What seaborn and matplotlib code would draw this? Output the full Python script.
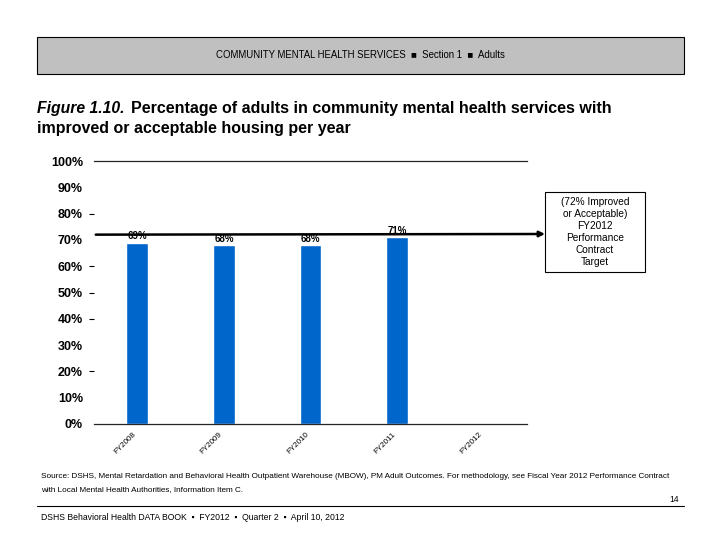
import numpy as np
import pandas as pd
import matplotlib
matplotlib.use("Agg")
import matplotlib.pyplot as plt
import matplotlib.transforms as mtransforms
from matplotlib.patches import Rectangle
import seaborn as sns

# ---------------- DATA ----------------
years = ["FY2008", "FY2009", "FY2010", "FY2011", "FY2012"]
pct_improved = [69, 68, 68, 71, np.nan]
target = 72
y_ticks = [0, 10, 20, 30, 40, 50, 60, 70, 80, 90, 100]
dash_ticks = [20, 40, 50, 60, 80]   # little marks left of the axis in the original

df = pd.DataFrame({"year": years, "pct": pct_improved})

# ---------------- STYLE ----------------
sns.set_style("white")
plt.rcParams['font.family'] = ['Liberation Sans', 'DejaVu Sans']
plt.rcParams['text.color'] = 'black'
plt.rcParams['xtick.color'] = 'black'
plt.rcParams['ytick.color'] = 'black'

fig = plt.figure(figsize=(7.2, 5.4), dpi=100)
W, H = 720, 540

def fx(px):
    return px / W

def fy(py):
    return 1 - py / H

# ---------------- HEADER ----------------
fig.patches.append(Rectangle((fx(37), fy(74)), fx(684) - fx(37), fy(37) - fy(74),
                             transform=fig.transFigure, facecolor="#c0c0c0",
                             edgecolor="black", linewidth=0.8))
fig.text(fx(360), fy(55), "COMMUNITY MENTAL HEALTH SERVICES  \u25A0  Section 1  \u25A0  Adults",
         ha="center", va="center", fontsize=6.9)

# ---------------- TITLE ----------------
fig.text(fx(37), fy(109), "Figure 1.10.", fontsize=11.3, fontweight="bold",
         fontstyle="italic", va="center")
fig.text(fx(131), fy(109), "Percentage of adults in community mental health services with",
         fontsize=11.5, fontweight="bold", va="center")
fig.text(fx(37), fy(128), "improved or acceptable housing per year",
         fontsize=11.5, fontweight="bold", va="center")

# ---------------- CHART ----------------
ax = fig.add_axes([fx(94), fy(424), fx(527) - fx(94), fy(161) - fy(424)])
sns.barplot(data=df, x="year", y="pct", order=years, color="#0066cc",
            saturation=1, width=0.25, ax=ax)

for i, v in enumerate(pct_improved):
    if not np.isnan(v):
        ax.text(i, v + 0.5, f"{int(v)}%", ha="center", va="bottom",
                fontsize=7, fontweight="bold")

ax.set_ylim(0, 100)
ax.set_xlim(-0.5, len(years) - 0.5)
ax.set_yticks(y_ticks)
ax.set_yticklabels([f"{t}%" for t in y_ticks], fontsize=9, fontweight="bold")
ax.tick_params(axis="y", length=3.5, width=0.8, direction="out", pad=4.5, left=True)
for t, tk in zip(y_ticks, ax.yaxis.get_major_ticks()):
    tk.tick1line.set_visible(t in dash_ticks)
ax.tick_params(axis="x", length=0, pad=5)
ax.set_xticks(range(len(years)))
ax.set_xticklabels(years, rotation=45, ha="right", rotation_mode="anchor", fontsize=5.8)
shift = mtransforms.ScaledTranslation(-5 / 100, 0, fig.dpi_scale_trans)
for lbl in ax.get_xticklabels():
    lbl.set_transform(lbl.get_transform() + shift)
ax.set_xlabel("")
ax.set_ylabel("")
for s in ["left", "right"]:
    ax.spines[s].set_visible(False)
ax.spines["top"].set_linewidth(0.9)
ax.spines["bottom"].set_linewidth(0.9)

# target line with arrow to the label box
ax.annotate("", xy=(fx(545), fy(234)), xycoords="figure fraction",
            xytext=(-0.48, target), textcoords="data",
            arrowprops=dict(arrowstyle="-|>", color="black", lw=1.8,
                            mutation_scale=8, shrinkA=0, shrinkB=0),
            annotation_clip=False)

fig.patches.append(Rectangle((fx(545), fy(272)), fx(645) - fx(545), fy(192) - fy(272),
                             transform=fig.transFigure, facecolor="white",
                             edgecolor="black", linewidth=0.8))
fig.text(fx(595), fy(232), "(72% Improved\nor Acceptable)\nFY2012\nPerformance\nContract\nTarget",
         ha="center", va="center", fontsize=7.3, linespacing=1.25)

# ---------------- FOOTER ----------------
fig.text(fx(41), fy(477), "Source: DSHS, Mental Retardation and Behavioral Health Outpatient Warehouse (MBOW), "
         "PM Adult Outcomes. For methodology, see Fiscal Year 2012 Performance Contract",
         fontsize=5.85, va="center")
fig.text(fx(41), fy(490), "with Local Mental Health Authorities, Information Item C.",
         fontsize=5.85, va="center")
fig.lines.append(plt.Line2D([fx(37), fx(684)], [fy(506), fy(506)],
                            transform=fig.transFigure, color="black", lw=0.8))
fig.text(fx(679), fy(500), "14", fontsize=6.2, ha="right", va="center")
fig.text(fx(41), fy(517), "DSHS Behavioral Health DATA BOOK  \u25AA  FY2012  \u25AA  Quarter 2  \u25AA  April 10, 2012",
         fontsize=6.2, va="center")

fig.savefig("out.png", dpi=100)
